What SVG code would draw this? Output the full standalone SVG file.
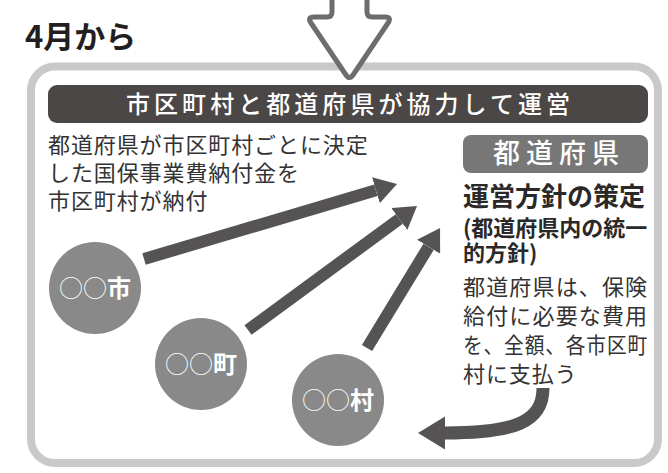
<svg xmlns="http://www.w3.org/2000/svg" width="668" height="473" viewBox="0 0 668 473">
<defs>
<style>
text{font-family:"Noto Sans CJK JP","Noto Sans",sans-serif;}
.body{font-size:22px;fill:#333;letter-spacing:0.9px;}
.bold{font-weight:bold;fill:#2b2828;}
.ctext{font-size:24px;fill:#fff;text-anchor:middle;}
.ring{font-weight:300;}
.node{fill:#898989;}
.arr{stroke:#555354;stroke-width:12;fill:none;}
</style>
<marker id="head" markerUnits="userSpaceOnUse" markerWidth="24" markerHeight="28" refX="0" refY="13.5" orient="auto">
<path d="M0,0 L22,13.5 L0,27 Z" fill="#555354"/>
</marker>
<marker id="head2" markerUnits="userSpaceOnUse" markerWidth="30" markerHeight="34" refX="0" refY="16.5" orient="auto">
<path d="M0,0 L27,16.5 L0,33 Z" fill="#555354"/>
</marker>
</defs>
<rect width="668" height="473" fill="#fff"/>

<g id="frame">
<rect x="31" y="66.5" width="627" height="396.5" rx="24" fill="#fff" stroke="#c9c9c9" stroke-width="8"/>
</g>

<g id="down-arrow">
<path d="M332,-5 V12 Q332,17 327,17 H314 Q307,17 311,23 L346,75 Q349.5,80 353,75 L388,23 Q392,17 385,17 H372 Q367,17 367,12 V-5" fill="#fff" stroke="#6d6d6d" stroke-width="5" stroke-linejoin="round"/>
</g>

<g id="heading">
<text x="25" y="48" font-size="31" font-weight="bold" fill="#231f20">4月から</text>
</g>

<g id="title">
<rect x="48" y="85" width="600" height="38" rx="9" fill="#4b4747"/>
<text x="126" y="113" font-size="24" font-weight="500" fill="#fff" textLength="444" lengthAdjust="spacing">市区町村と都道府県が協力して運営</text>
</g>

<g id="left-note">
<text class="body" x="48" y="153">都道府県が市区町村ごとに決定</text>
<text class="body" x="48" y="181">した国保事業費納付金を</text>
<text class="body" x="48" y="209">市区町村が納付</text>
</g>

<g id="prefecture">
<rect x="463" y="135" width="185" height="38" rx="8" fill="#777"/>
<text x="559" y="163" font-size="27" font-weight="500" fill="#fff" text-anchor="middle" letter-spacing="6">都道府県</text>
<text class="bold" x="463" y="206" font-size="26">運営方針の策定</text>
<text class="bold" x="463" y="236" font-size="22">(都道府県内の統一</text>
<text class="bold" x="463" y="261" font-size="22">的方針)</text>
<text class="body" x="463" y="295" textLength="185" lengthAdjust="spacing">都道府県は、保険</text>
<text class="body" x="463" y="324" textLength="185" lengthAdjust="spacing">給付に必要な費用</text>
<text class="body" x="463" y="353" textLength="185" lengthAdjust="spacingAndGlyphs">を、全額、各市区町</text>
<text class="body" x="463" y="382">村に支払う</text>
</g>

<g id="connectors">
<path class="arr" d="M144,259 L375.9,190.3" marker-end="url(#head)"/>
<path class="arr" d="M248,330 L399.3,219" marker-end="url(#head)"/>
<path class="arr" d="M367,348 L428.6,246.8" marker-end="url(#head)"/>
<path d="M543,388 C543,422 515,433 445,433" stroke="#555354" stroke-width="13" fill="none" marker-end="url(#head2)"/>
</g>

<g id="city">
<circle class="node" cx="95" cy="288" r="46"/>
<text class="ctext" x="95" y="297"><tspan class="ring">○○</tspan><tspan font-weight="bold">市</tspan></text>
</g>
<g id="town">
<circle class="node" cx="201" cy="364" r="46"/>
<text class="ctext" x="201" y="373"><tspan class="ring">○○</tspan><tspan font-weight="bold">町</tspan></text>
</g>
<g id="village">
<circle class="node" cx="338" cy="400" r="46"/>
<text class="ctext" x="338" y="409"><tspan class="ring">○○</tspan><tspan font-weight="bold">村</tspan></text>
</g>
</svg>
